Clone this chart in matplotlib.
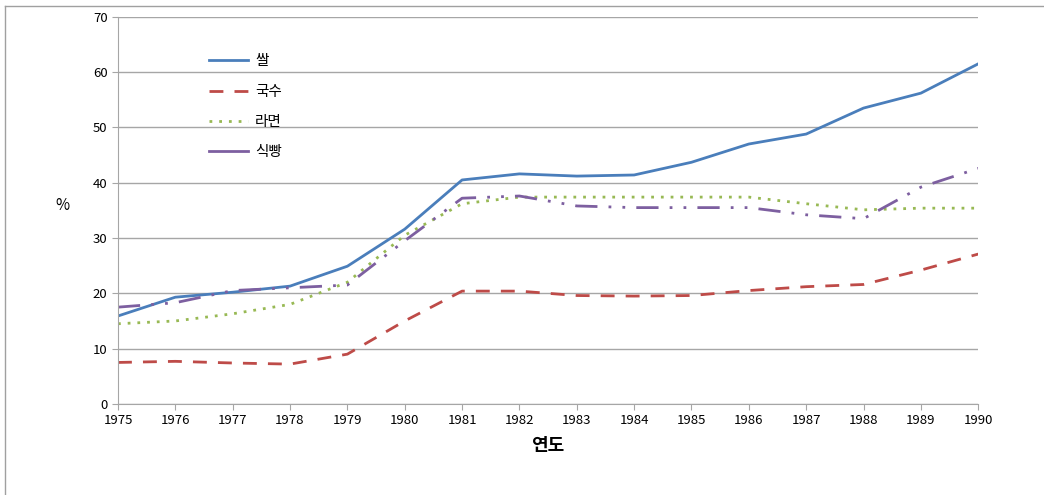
import matplotlib
matplotlib.use("Agg")
import matplotlib.pyplot as plt
from matplotlib.lines import Line2D

plt.rcParams['font.family'] = ['Noto Sans CJK KR', 'DejaVu Sans']

# data
years = list(range(1975, 1991))
rice = [15.9, 19.3, 20.2, 21.3, 24.9, 31.6, 40.5, 41.6, 41.2, 41.4, 43.7, 47.0, 48.8, 53.5, 56.2, 61.5]
noodle = [7.5, 7.7, 7.4, 7.2, 9.0, 15.0, 20.4, 20.4, 19.6, 19.5, 19.6, 20.5, 21.2, 21.6, 24.2, 27.1]
ramen = [14.5, 15.0, 16.3, 18.0, 22.0, 30.5, 36.2, 37.4, 37.4, 37.4, 37.4, 37.4, 36.2, 35.1, 35.4, 35.4]
bread = [17.5, 18.3, 20.5, 21.0, 21.5, 29.5, 37.2, 37.6, 35.8, 35.5, 35.5, 35.5, 34.2, 33.5, 39.2, 42.6]
labels = ['쌀', '국수', '라면', '식빵']

fig = plt.figure(figsize=(10.44, 4.95), dpi=100)
ax = fig.add_axes([0.113, 0.184, 0.824, 0.782])

ax.plot(years, rice, color='#4A7EBB', lw=2, label=labels[0])
ax.plot(years, noodle, color='#BE4B48', lw=2, dashes=(5, 4), label=labels[1])
ax.plot(years, ramen, color='#98B954', lw=2, dashes=(1, 2.5), label=labels[2])
ax.plot(years, bread, color='#7D5FA0', lw=2, dashes=(8, 4, 1, 4, 1, 4), label=labels[3])

ax.set_xlim(1975, 1990)
ax.set_ylim(0, 70)
ax.set_xticks(years)
ax.set_yticks(range(0, 71, 10))
ax.grid(axis='y', color='#a6a6a6', lw=1)
ax.set_axisbelow(True)
for s in ['top', 'right']:
    ax.spines[s].set_visible(False)
for s in ['left', 'bottom']:
    ax.spines[s].set_color('#a6a6a6')
ax.tick_params(axis='both', colors='#a6a6a6', labelcolor='black', labelsize=9.5, length=4)

ax.set_xlabel('연도', fontsize=13, fontweight='bold', labelpad=6)
ax.set_ylabel('%', fontsize=11, rotation=0, labelpad=18)
ax.yaxis.set_label_coords(-0.065, 0.49)

handles = [
    Line2D([], [], color='#4A7EBB', lw=2),
    Line2D([], [], color='#BE4B48', lw=2, dashes=(5, 4)),
    Line2D([], [], color='#98B954', lw=2, dashes=(1, 2.5)),
    Line2D([], [], color='#7D5FA0', lw=2),
]
ax.legend(handles, labels, loc='upper left', bbox_to_anchor=(0.09, 0.937), frameon=False,
          fontsize=10.5, handlelength=2.7, labelspacing=1.12, handletextpad=0.5)

# outer border like the pasted image
fig.add_artist(Line2D([0.005, 0.005], [0, 0.988], transform=fig.transFigure, color='#a0a0a0', lw=1))
fig.add_artist(Line2D([0.005, 1.0], [0.988, 0.988], transform=fig.transFigure, color='#a0a0a0', lw=1))

fig.savefig('out.png', dpi=100)
